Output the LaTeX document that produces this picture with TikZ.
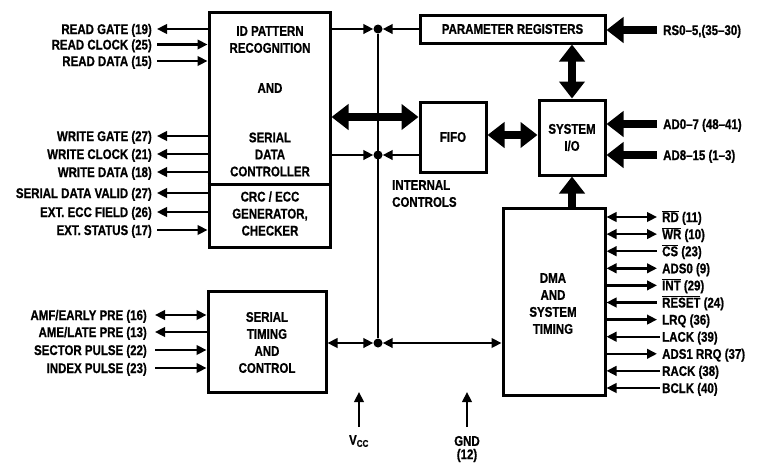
\documentclass[tikz,border=0pt]{standalone}
\usepackage{fontspec}
\setmainfont{Liberation Sans}[FakeStretch=0.82, BoldFeatures={FakeBold=0.8}]
\usetikzlibrary{arrows.meta}
\newcommand\ovl[1]{$\overline{\mbox{#1}}$}
\begin{document}
\begin{tikzpicture}[x=1pt,y=-1pt,
  every node/.style={font=\bfseries\fontsize{14}{17}\selectfont, inner sep=0pt},
  box/.style={draw, line width=3pt},
  sig/.style={line width=2.4pt, >={Triangle[length=10pt,width=9.5pt]}},
  bus/.style={line width=8pt, >={Triangle[length=17pt,width=25pt]}},
  dot/.style={circle, fill, minimum size=9pt, inner sep=0pt},
  lab/.style={anchor=base east},
  rlab/.style={anchor=base west}]
\useasboundingbox (0,0) rectangle (763,464);

% blocks
\node[box, minimum width=121pt, minimum height=235pt] (id) at (269.5,129.5) {};
\draw[line width=3pt] (id.west |- 0,184) -- (id.east |- 0,184);
\node[align=center] (idt1) at (270,39.5) {ID PATTERN\\RECOGNITION};
\node (idt2) at (270,88) {AND};
\node[align=center] (idt3) at (270,154.5) {SERIAL\\DATA\\CONTROLLER};
\node[align=center] (idt4) at (270,213.5) {CRC / ECC\\GENERATOR,\\CHECKER};

\node[box, minimum width=185pt, minimum height=28pt] (param) at (512.5,29) {PARAMETER REGISTERS};
\node[box, minimum width=66pt, minimum height=70pt] (fifo) at (453,137) {FIFO};
\node[box, minimum width=66pt, minimum height=75pt, align=center] (sysio) at (572,137.5) {SYSTEM\\I/O};
\node[box, minimum width=102pt, minimum height=187pt] (dma) at (554,301.5) {};
\node[align=center] (dmat) at (553,303.5) {DMA\\AND\\SYSTEM\\TIMING};
\node[box, minimum width=118pt, minimum height=101pt] (st) at (267,341.5) {};
\node[align=center] (stt) at (267,342.5) {SERIAL\\TIMING\\AND\\CONTROL};

% internal bus
\node[dot] (d1) at (378,29) {};
\node[dot] (d2) at (378,155) {};
\node[dot] (d3) at (378,343) {};
\draw[sig] (d1) -- (d3);
\draw[sig,->] (id.east |- d1) -- (d1);
\draw[sig,->] (param.west |- d1) -- (d1);
\draw[sig,->] (id.east |- d2) -- (d2);
\draw[sig,->] (fifo.west |- d2) -- (d2);
\draw[sig,<->] (st.east |- d3) -- (d3);
\draw[sig,<->] (d3) -- (dma.west |- d3);
\node[anchor=north west, align=left] (ic) at (392,180) {INTERNAL\\CONTROLS};

% thick buses
\draw[bus,<->] (id.east |- 0,117) -- (fifo.west |- 0,117);
\draw[bus,<->] (fifo.east |- 0,135) -- (sysio.west |- 0,135);
\draw[bus,<->] (sysio.north |- param.south) -- (sysio.north);
\draw[bus,->] (sysio.south |- dma.north) -- (sysio.south);
\coordinate (rs) at (657,30);
\coordinate (ad0) at (657,124);
\coordinate (ad8) at (657,155);
\draw[bus,->] (rs) -- (param.east |- rs);
\draw[bus,->] (ad0) -- (sysio.east |- ad0);
\draw[bus,->] (ad8) -- (sysio.east |- ad8);
\node[rlab] (rst) at (663,35) {RS0--5,(35--30)};
\node[rlab] (ad0t) at (663,129) {AD0--7 (48--41)};
\node[rlab] (ad8t) at (663,160) {AD8--15 (1--3)};

% left signals of ID box
\coordinate (l1) at (157,29);   \node[lab] at (152,34) (l1t) {READ GATE (19)};
\coordinate (l2) at (157,44.5); \node[lab] at (152,49.5) (l2t) {READ CLOCK (25)};
\coordinate (l3) at (157,61);   \node[lab] at (152,66) (l3t) {READ DATA (15)};
\coordinate (l4) at (157,136);  \node[lab] at (152,141) (l4t) {WRITE GATE (27)};
\coordinate (l5) at (157,154);  \node[lab] at (152,159) (l5t) {WRITE CLOCK (21)};
\coordinate (l6) at (157,172);  \node[lab] at (152,177) (l6t) {WRITE DATA (18)};
\coordinate (l7) at (157,193);  \node[lab] at (152,198) (l7t) {SERIAL DATA VALID (27)};
\coordinate (l8) at (157,212);  \node[lab] at (152,217) (l8t) {EXT. ECC FIELD (26)};
\coordinate (l9) at (157,230);  \node[lab] at (152,235) (l9t) {EXT. STATUS (17)};
\draw[sig,<-] (l1) -- (id.west |- l1);
\draw[sig,->] (l2) -- (id.west |- l2);
\draw[sig,->] (l3) -- (id.west |- l3);
\draw[sig,<-] (l4) -- (id.west |- l4);
\draw[sig,<-] (l5) -- (id.west |- l5);
\draw[sig,<-] (l6) -- (id.west |- l6);
\draw[sig,<-] (l7) -- (id.west |- l7);
\draw[sig,<-] (l8) -- (id.west |- l8);
\draw[sig,->] (l9) -- (id.west |- l9);

% left signals of serial timing
\coordinate (s1) at (155,315); \node[lab] at (147,320) (s1t) {AMF/EARLY PRE (16)};
\coordinate (s2) at (155,332); \node[lab] at (147,337) (s2t) {AME/LATE PRE (13)};
\coordinate (s3) at (155,350); \node[lab] at (147,355) (s3t) {SECTOR PULSE (22)};
\coordinate (s4) at (155,368); \node[lab] at (147,373) (s4t) {INDEX PULSE (23)};
\draw[sig,<->] (s1) -- (st.west |- s1);
\draw[sig,<-] (s2) -- (st.west |- s2);
\draw[sig,->] (s3) -- (st.west |- s3);
\draw[sig,->] (s4) -- (st.west |- s4);

% right signals of DMA
\coordinate (r1) at (657,217);    \node[rlab] at (662,222) (r1t) {\ovl{RD} (11)};
\coordinate (r2) at (657,234.1);  \node[rlab] at (662,239.1) (r2t) {\ovl{WR} (10)};
\coordinate (r3) at (657,251.2);  \node[rlab] at (662,256.2) (r3t) {\ovl{CS} (23)};
\coordinate (r4) at (657,268.3);  \node[rlab] at (662,273.3) (r4t) {ADS0 (9)};
\coordinate (r5) at (657,285.4);  \node[rlab] at (662,290.4) (r5t) {\ovl{INT} (29)};
\coordinate (r6) at (657,302.5);  \node[rlab] at (662,307.5) (r6t) {\ovl{RESET} (24)};
\coordinate (r7) at (657,319.6);  \node[rlab] at (662,324.6) (r7t) {LRQ (36)};
\coordinate (r8) at (660,336.7);  \node[rlab] at (662,341.7) (r8t) {LACK (39)};
\coordinate (r9) at (657,353.8);  \node[rlab] at (662,358.8) (r9t) {ADS1 RRQ (37)};
\coordinate (r10) at (660,370.9); \node[rlab] at (662,375.9) (r10t) {RACK (38)};
\coordinate (r11) at (660,388);   \node[rlab] at (662,393) (r11t) {BCLK (40)};
\draw[sig,<->] (dma.east |- r1) -- (r1);
\draw[sig,<->] (dma.east |- r2) -- (r2);
\draw[sig,<-] (dma.east |- r3) -- (r3);
\draw[sig,<->] (dma.east |- r4) -- (r4);
\draw[sig,->] (dma.east |- r5) -- (r5);
\draw[sig,<-] (dma.east |- r6) -- (r6);
\draw[sig,->] (dma.east |- r7) -- (r7);
\draw[sig,<-] (dma.east |- r8) -- (r8);
\draw[sig,->] (dma.east |- r9) -- (r9);
\draw[sig,<-] (dma.east |- r10) -- (r10);
\draw[sig,<-] (dma.east |- r11) -- (r11);

% power
\coordinate (vb) at (359,427); \coordinate (vt) at (359,392);
\coordinate (gb) at (467,427); \coordinate (gt) at (467,392);
\draw[sig,->] (vb) -- (vt);
\draw[sig,->] (gb) -- (gt);
\node (vcc) at (359,441) {V\textsubscript{CC}};
\node (gnd) at (467,441) {GND};
\node (gnd12) at (467,455.5) {(12)};
\end{tikzpicture}
\end{document}
